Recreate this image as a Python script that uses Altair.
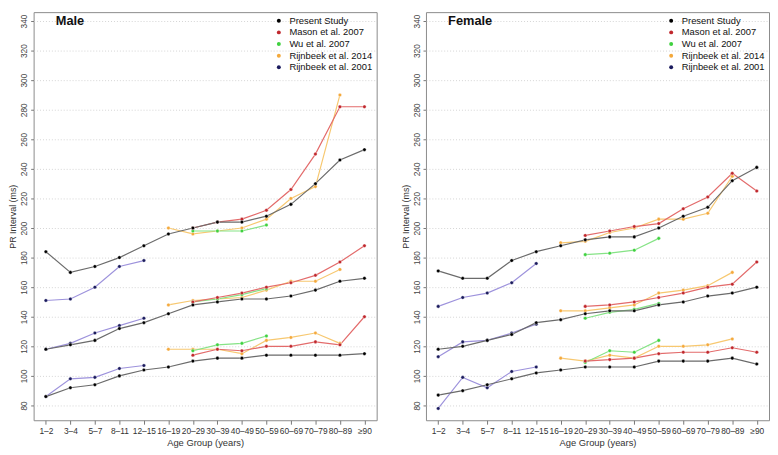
import altair as alt
import pandas as pd

ages = ["1–2", "3–4", "5–7", "8–11", "12–15", "16–19", "20–29", "30–39",
        "40–49", "50–59", "60–69", "70–79", "80–89", "≥90"]

studies = ["Present Study", "Mason et al. 2007", "Wu et al. 2007",
           "Rijnbeek et al. 2014", "Rijnbeek et al. 2001"]
point_colors = ["#000000", "#c0282d", "#3fd13f", "#f4a93c", "#1b1b5e"]
line_colors = ["#6b6b6b", "#e36b6b", "#86e386", "#f7c870", "#9d92dc"]

# start index into ages for each study
study_start = {"Present Study": 0, "Mason et al. 2007": 6, "Wu et al. 2007": 6,
               "Rijnbeek et al. 2014": 5, "Rijnbeek et al. 2001": 0}

# ---------- Male ----------
male_present_upper = [184, 170, 174, 180, 188, 196, 200, 204, 204, 208, 216, 230, 246, 253]
male_present_median = [118, 121, 124, 132, 136, 142, 148, 150, 152, 152, 154, 158, 164, 166]
male_present_lower = [86, 92, 94, 100, 104, 106, 110, 112, 112, 114, 114, 114, 114, 115]

male_rij2001_upper = [151, 152, 160, 174, 178]
male_rij2001_median = [118, 122, 129, 134, 139]
male_rij2001_lower = [86, 98, 99, 105, 107]

male_mason_upper = [200, 204, 206, 212, 226, 250, 282, 282]
male_mason_median = [150, 153, 156, 160, 163, 168, 177, 188]
male_mason_lower = [114, 118, 117, 120, 120, 123, 121, 140]

male_wu_upper = [198, 198, 198, 202]
male_wu_median = [150, 152, 155, 159]
male_wu_lower = [117, 121, 122, 127]

male_rij2014_upper = [200, 196, 198, 200, 206, 220, 228, 290]
male_rij2014_median = [148, 151, 152, 153, 158, 164, 164, 172]
male_rij2014_lower = [118, 118, 118, 115, 124, 126, 129, 122]

# ---------- Female ----------
female_present_upper = [171, 166, 166, 178, 184, 188, 192, 194, 194, 200, 208, 214, 232, 241]
female_present_median = [118, 120, 124, 128, 136, 138, 142, 144, 144, 148, 150, 154, 156, 160]
female_present_lower = [87, 90, 94, 98, 102, 104, 106, 106, 106, 110, 110, 110, 112, 108]

female_rij2001_upper = [147, 153, 156, 163, 176]
female_rij2001_median = [113, 123, 124, 129, 135]
female_rij2001_lower = [78, 99, 92, 103, 106]

female_mason_upper = [195, 198, 201, 203, 213, 221, 237, 225]
female_mason_median = [147, 148, 150, 153, 156, 160, 162, 177]
female_mason_lower = [110, 111, 112, 115, 116, 116, 119, 116]

female_wu_upper = [182, 183, 185, 193]
female_wu_median = [139, 143, 145, 149]
female_wu_lower = [109, 117, 116, 124]

female_rij2014_upper = [190, 191, 197, 200, 206, 206, 210, 235]
female_rij2014_median = [144, 144, 146, 148, 156, 158, 161, 170]
female_rij2014_lower = [112, 110, 114, 112, 120, 120, 121, 125]

panel_titles = ["Male", "Female"]
title_anchor_age = ages[0]
title_anchor_value = 340
y_ticks = [80, 100, 120, 140, 160, 180, 200, 220, 240, 260, 280, 300, 320, 340]

series = {
    "Male": {
        "Rijnbeek et al. 2014": (male_rij2014_upper, male_rij2014_median, male_rij2014_lower),
        "Wu et al. 2007": (male_wu_upper, male_wu_median, male_wu_lower),
        "Mason et al. 2007": (male_mason_upper, male_mason_median, male_mason_lower),
        "Rijnbeek et al. 2001": (male_rij2001_upper, male_rij2001_median, male_rij2001_lower),
        "Present Study": (male_present_upper, male_present_median, male_present_lower),
    },
    "Female": {
        "Rijnbeek et al. 2014": (female_rij2014_upper, female_rij2014_median, female_rij2014_lower),
        "Wu et al. 2007": (female_wu_upper, female_wu_median, female_wu_lower),
        "Mason et al. 2007": (female_mason_upper, female_mason_median, female_mason_lower),
        "Rijnbeek et al. 2001": (female_rij2001_upper, female_rij2001_median, female_rij2001_lower),
        "Present Study": (female_present_upper, female_present_median, female_present_lower),
    },
}

rows = []
order = 0
for sex, sd in series.items():
    for study, pcts in sd.items():
        start = study_start[study]
        lc = line_colors[studies.index(study)]
        for pname, vals in zip(["upper", "median", "lower"], pcts):
            for i, v in enumerate(vals):
                rows.append({"sex": sex, "study": study, "pct": pname,
                             "series": f"{order:02d}-{study}-{pname}",
                             "age": ages[start + i], "value": v, "lc": lc})
            order += 1
df = pd.DataFrame(rows)

FONT = "Liberation Sans"


def panel(sex):
    d = df[df.sex == sex]
    xenc = alt.X("age:N", sort=ages,
                 scale=alt.Scale(type="point", padding=0.5, domain=ages),
                 axis=alt.Axis(title="Age Group (years)", labelAngle=0,
                               labelOverlap=False, labelFontSize=8.5,
                               labelPadding=2, tickSize=4, titleFontSize=9.5,
                               titleFontWeight="normal",
                               titlePadding=3, domain=False, grid=False,
                               labelColor="#333", titleColor="#333",
                               tickColor="#777", labelFont=FONT, titleFont=FONT))
    yenc = alt.Y("value:Q",
                 scale=alt.Scale(domain=[70, 346], nice=False, zero=False),
                 axis=alt.Axis(title="PR Interval (ms)",
                               values=y_ticks, tickCount=30, labelOverlap=False,
                               labelAngle=270, labelAlign="center",
                               labelBaseline="bottom", labelFontSize=8.5,
                               labelPadding=2, tickSize=3, titleFontSize=9,
                               titleFontWeight="normal",
                               titlePadding=2, domain=False, grid=True,
                               gridColor="#d4d4d4", gridDash=[1, 2],
                               labelColor="#444", titleColor="#333",
                               tickColor="#777", labelFont=FONT, titleFont=FONT))
    base = alt.Chart(d).encode(x=xenc, y=yenc)
    lines = base.mark_line(strokeWidth=1.2).encode(
        stroke=alt.Stroke("lc:N", scale=None),
        detail="series:N",
    )
    pts = base.mark_point(filled=True, size=13, opacity=1, stroke="white",
                          strokeWidth=0.4).encode(
        fill=alt.Fill("study:N",
                      scale=alt.Scale(domain=studies, range=point_colors),
                      legend=alt.Legend(title=None, orient="top-right",
                                        offset=4, labelFontSize=9.5,
                                        labelFont=FONT, labelColor="#111",
                                        symbolSize=16, symbolType="circle",
                                        symbolStrokeWidth=0, rowPadding=0.8,
                                        labelOffset=6, padding=0)),
        detail="series:N",
    )
    title = alt.Chart(pd.DataFrame({"t": [sex], "age": [title_anchor_age],
                                    "value": [title_anchor_value]})).mark_text(
        align="left", baseline="middle", dx=10, fontSize=13,
        fontWeight="bold", font=FONT, color="#111").encode(
        x=alt.X("age:N", sort=ages), y=alt.Y("value:Q"), text="t:N")
    return alt.layer(lines, pts, title).properties(width=348, height=414)


chart = alt.hconcat(panel("Male"), panel("Female"), spacing=23).resolve_scale(
    fill="independent").resolve_legend(fill="independent").properties(
    padding={"left": 0, "top": 0, "right": 0, "bottom": 0},
    background="white",
).configure_view(stroke="#8a8a8a", strokeWidth=1)

chart.save("out.html", embed_options={"renderer": "svg", "actions": False})
